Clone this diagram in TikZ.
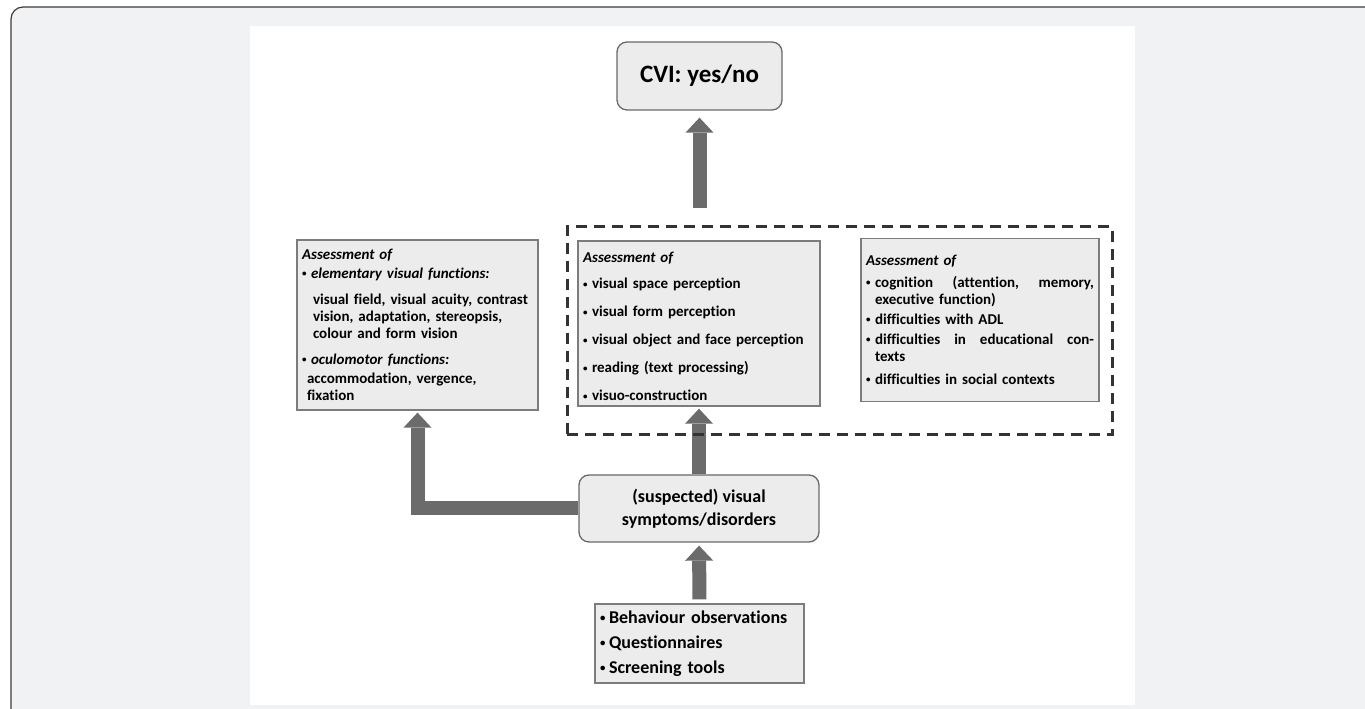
\documentclass[tikz,border=0pt]{standalone}
\usepackage{fontspec}
\setmainfont{Carlito}[Ligatures=NoCommon]
\usetikzlibrary{arrows.meta}

\definecolor{pagegray}{HTML}{F1F2F4}
\definecolor{framegray}{HTML}{3C3C3C}
\definecolor{boxfill}{HTML}{ECECEC}
\definecolor{boxline}{HTML}{7C7C7C}
\definecolor{arrowgray}{HTML}{6B6B6B}
\definecolor{dashgray}{HTML}{333333}

\newcommand{\bl}{\makebox[9pt][l]{\raisebox{0.25ex}{\scalebox{0.6}{\textbullet}}}}
\newcommand{\jline}[1]{\hbox to 219pt{#1}}

\begin{document}
\begin{tikzpicture}[x=1pt, y=1pt,
        sqbox/.style={draw=boxline, fill=boxfill, line width=1.3pt, inner sep=5pt, align=left,
            font=\bfseries\fontsize{15}{17}\selectfont},
        rbox/.style={draw=boxline!85!black, fill=boxfill, line width=1.3pt, rounded corners=10pt, align=center},
        fatarrow/.style={draw=arrowgray, line width=14pt, line join=miter,
            -{Triangle[length=15pt, width=28pt, line width=0pt]}}]
        \useasboundingbox (0,0) rectangle (1365,709);

        % Page background and white panel
        \draw[framegray, line width=1.2pt, rounded corners=12pt, fill=pagegray] (11,-40) rectangle (1420,702);
        \fill[white] (250,4) rectangle (1135,683);

        % Top: decision
        \node[rbox, minimum width=165pt, minimum height=68pt, font=\bfseries\fontsize{25}{29}\selectfont]
            (cvi) at (699.5,633) {CVI: yes/no};

        % Left: elementary and oculomotor functions
        \node[sqbox, text width=231pt, minimum height=170pt] (funcs) at (417.5,384) {%
            \textit{Assessment of}\\[2pt]
            \bl\textit{elementary visual functions:}\\[9pt]
            \hspace*{11pt}visual field, visual acuity, contrast\\
            \hspace*{11pt}vision, adaptation, stereopsis,\\
            \hspace*{11pt}colour and form vision\\[9pt]
            \bl\textit{oculomotor functions:}\\[2pt]
            \hspace*{5pt}accommodation, vergence,\\
            \hspace*{5pt}fixation};

        % Middle: perception
        \node[sqbox, text width=232pt, minimum height=163pt] (percep) at (699,385.5) {%
            \rule{0pt}{17pt}\textit{Assessment of}\\[9pt]
            \bl visual space perception\\[11pt]
            \bl visual form perception\\[11pt]
            \bl visual object and face perception\\[11pt]
            \bl reading (text processing)\\[11pt]
            \bl visuo-construction};

        % Right: cognition and daily life
        \node[sqbox, text width=228pt, minimum height=163pt] (cogn) at (980,389) {%
            \textit{Assessment of}\\[5pt]
            \bl\jline{cognition\hfill(attention,\hfill memory,}\\
            \hspace*{9pt}executive function)\\[3pt]
            \bl difficulties with ADL\\[3pt]
            \bl\jline{difficulties\hfill in\hfill educational\hfill con-}\\
            \hspace*{9pt}texts\\[6pt]
            \bl difficulties in social contexts};

        % Symptoms
        \node[rbox, minimum width=240pt, minimum height=67pt, font=\bfseries\fontsize{18}{23}\selectfont]
            (susp) at (699,200.5) {(suspected) visual\\symptoms/disorders};

        % Bottom: sources
        \node[sqbox, text width=199pt, minimum height=79pt, font=\bfseries\fontsize{18}{19}\selectfont]
            (tools) at (699.5,65.5) {%
            \bl Behaviour observations\\[6pt]
            \bl Questionnaires\\[6pt]
            \bl Screening tools};

        % Block arrows
        \draw[fatarrow, shorten <=4pt, shorten >=3pt] (tools.north) -- (susp.south);
        \draw[fatarrow, shorten >=2pt] (susp.north) -- (percep.south);
        \draw[fatarrow, shorten >=2pt] (susp.west) -| (funcs.south);

        % Dashed group round middle and right boxes
        \node[draw=dashgray, line width=3pt, dash pattern=on 11pt off 7pt,
            minimum width=545pt, minimum height=208pt, inner sep=0pt] (grp) at (839.5,378) {};
        \coordinate (grptop) at (cvi.south |- grp.north);
        \draw[fatarrow, shorten >=7pt] ([yshift=17pt]grptop) -- (cvi.south);

\end{tikzpicture}
\end{document}
